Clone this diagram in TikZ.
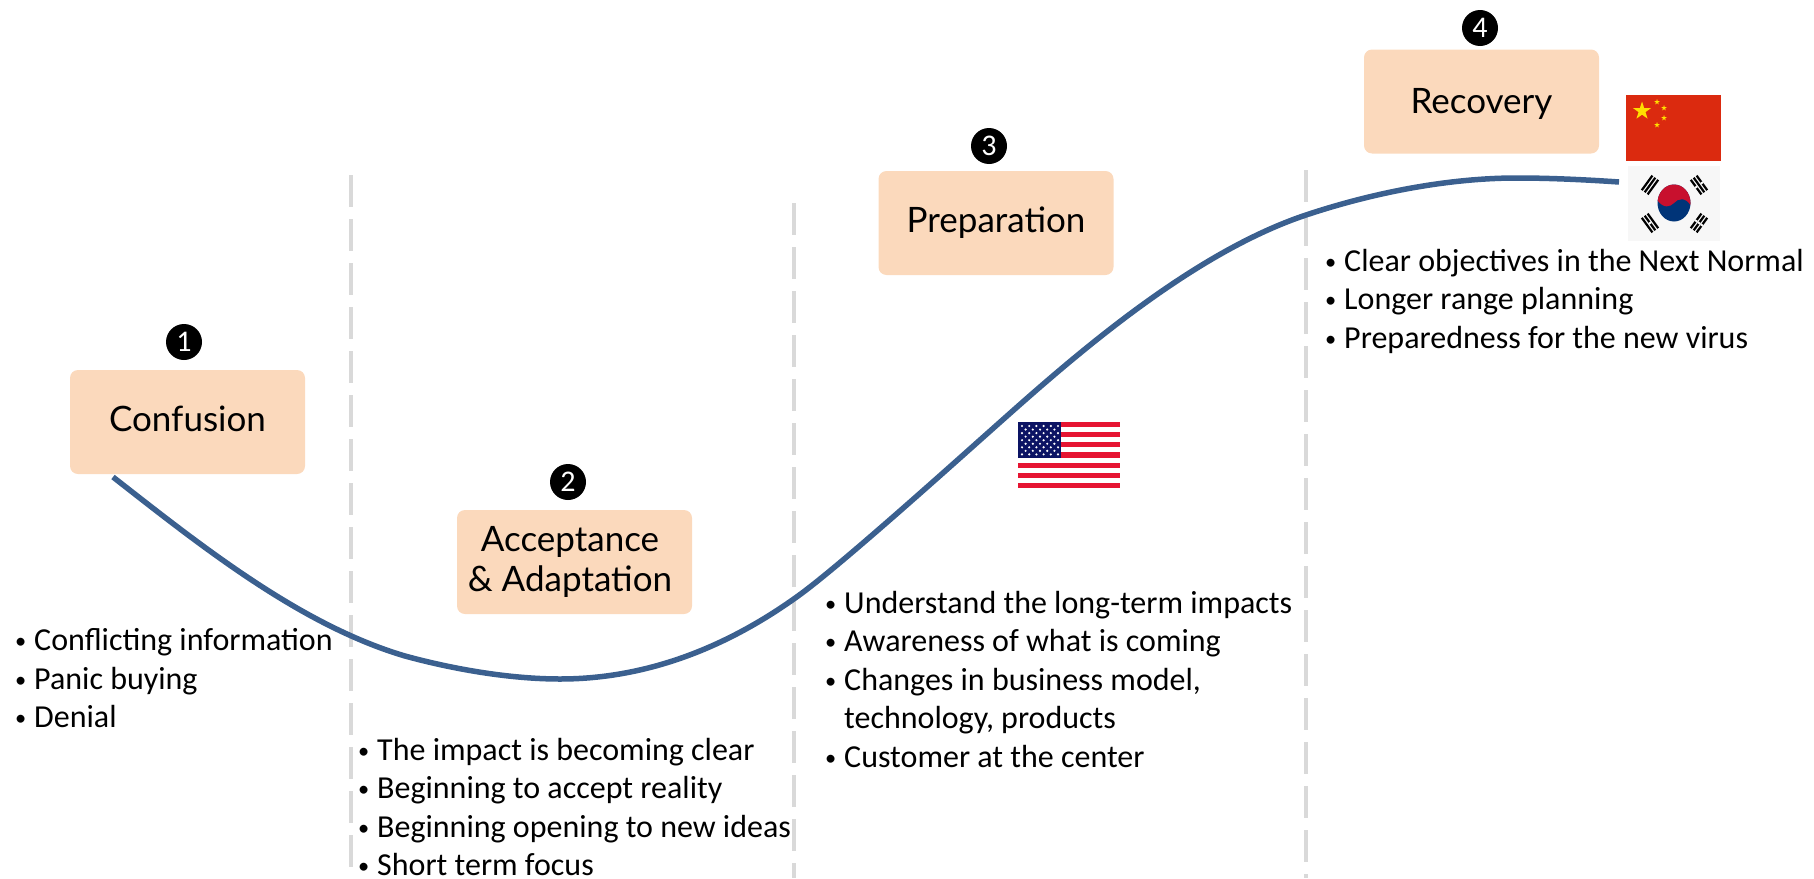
\documentclass[tikz,border=0pt]{standalone}
\usepackage{fontspec}
\setmainfont{Carlito}
\newfontfamily\boxfont{Lato}
\usetikzlibrary{shapes.geometric}
\definecolor{peach}{RGB}{251, 217, 188}
\definecolor{curveblue}{RGB}{59, 96, 143}
\definecolor{gray85}{gray}{0.85}
\definecolor{cnred}{RGB}{219, 42, 15}
\definecolor{cnyellow}{RGB}{255, 222, 0}
\definecolor{krred}{RGB}{200, 16, 46}
\definecolor{krblue}{RGB}{0, 52, 120}
\definecolor{usred}{RGB}{230, 20, 50}
\definecolor{usblue}{RGB}{12, 20, 100}
\tikzset{
  phase/.style={fill=peach, rounded corners=8pt, minimum width=235pt, minimum height=104pt,
                align=center, inner sep=0pt, font=\boxfont\fontsize{35}{40}\selectfont},
  badge/.style={circle, fill=black, text=white, minimum size=36pt, inner sep=0pt,
                font=\fontsize{30}{30}\selectfont},
  notes/.style={anchor=north west, align=left, inner sep=0pt, font=\fontsize{32}{38.5}\selectfont},
  divider/.style={color=gray85, line width=4pt, dash pattern=on 32pt off 12pt}
}
\newcommand{\bul}{\makebox[19pt][l]{\raisebox{2pt}{\scalebox{0.7}{\textbullet}}}}
\newcommand{\bulgap}{\hspace*{19pt}}
\begin{document}
\begin{tikzpicture}[x=1pt, y=-1pt]
  \useasboundingbox (0, 0) rectangle (1814, 878);

  \foreach \x/\ystart in {351/175, 794/203, 1306/170} {
    \draw [divider] (\x, \ystart) -- (\x, 878);
  }

  \node [phase] (confusion) at (187.5, 422) {\raisebox{3.5pt}[\height][\depth]{Confusion}};
  \node [phase] (acceptance) at (574.5, 562) {\hspace*{-9pt}Acceptance\\\hspace*{-9pt}\& Adaptation};
  \node [phase] (preparation) at (996, 223) {Preparation};
  \node [phase] (recovery) at (1481.5, 101.5) {\raisebox{-2.5pt}[\height][\depth]{Recovery}};

  \node [badge] (one) at (184, 342) {1};
  \node [badge] (two) at (568, 482) {2};
  \node [badge] (three) at (989, 146) {3};
  \node [badge] (four) at (1480, 28) {4};

  \coordinate (curvestart) at (113, 477);
  \coordinate (curveend) at (1619, 182);
  \draw [color=curveblue, line width=5.5pt] (curvestart) ..
        controls (200, 545) and (300, 625) .. (405, 656) ..
        controls (460, 671) and (515, 679) .. (560, 679) ..
        controls (650, 679) and (730, 645) .. (798, 596) ..
        controls (830, 573) and (905, 507) .. (980, 440) ..
        controls (1050, 378) and (1180, 257) .. (1306, 215) ..
        controls (1375, 192) and (1450, 178) .. (1517, 178) ..
        controls (1552, 178) and (1590, 180) .. (curveend);

  \node [notes] (notesone) at (15, 628.5) {\bul Conflicting information\\\bul Panic buying\\\bul Denial};
  \node [notes] (notestwo) at (358, 738) {\bul The impact is becoming clear\\\bul Beginning to accept reality\\
        \bul Beginning opening to new ideas\\\bul Short term focus};
  \node [notes] (notesthree) at (825, 591) {\bul Understand the long-term impacts\\\bul Awareness of what is coming\\
        \bul Changes in business model,\\\bulgap technology, products\\\bul Customer at the center};
  \node [notes] (notesfour) at (1325, 249) {\bul Clear objectives in the Next Normal\\\bul Longer range planning\\
        \bul Preparedness for the new virus};

  % China
  \fill [color=cnred] (1626, 95) rectangle (1721, 161);
  \node [star, star points=5, star point ratio=2.6, fill=cnyellow, minimum size=19pt, inner sep=0pt] (bigstar) at (1642, 111) {};
  \foreach \x/\y in {1657/102, 1664/108, 1664/118, 1657/125} {
    \node [star, star points=5, star point ratio=2.6, fill=cnyellow, minimum size=6pt, inner sep=0pt] at (\x, \y) {};
  }

  % Korea
  \fill [color=black!3] (1628, 166) rectangle (1720, 241);
  \begin{scope}
    \clip (1674, 203) ellipse (16.5 and 18.5);
    \fill [color=krblue] (1650, 180) rectangle (1698, 226);
    \fill [color=krred] (1657, 200) .. controls (1664, 209) and (1670, 207) .. (1674, 203) ..
                        controls (1678, 198) and (1686, 197) .. (1691, 206) --
                        (1695, 180) -- (1653, 180) -- cycle;
  \end{scope}
  \foreach \x/\y/\a/\gaps in {1650/185/54/{}, 1699/185/-54/{-3.6, 3.6}, 1650/223/-54/{0}, 1699/223/54/{-3.6, 0, 3.6}} {
    \begin{scope}[shift={(\x, \y)}, rotate=\a]
      \foreach \d in {-3.6, 0, 3.6} {
        \draw [line width=2.2pt] (-9, \d) -- (9, \d);
      }
      \foreach \d in \gaps {
        \draw [color=black!3, line width=2.8pt] (-1, \d) -- (1, \d);
      }
    \end{scope}
  }

  % USA
  \fill [color=white] (1018, 422) rectangle (1120, 488);
  \foreach \i in {0, 2, ..., 12} {
    \fill [color=usred] (1018, 422 + 5.08 * \i) rectangle (1120, 422 + 5.08 * \i + 5.08);
  }
  \fill [color=usblue] (1018, 422) rectangle (1061, 458);
  \foreach \r in {0, 2, ..., 8} {
    \foreach \c in {0, ..., 5} {
      \fill [color=white] (1022 + 7.2 * \c, 426 + 3.55 * \r) circle (1.2);
    }
  }
  \foreach \r in {1, 3, ..., 7} {
    \foreach \c in {0, ..., 4} {
      \fill [color=white] (1025.6 + 7.2 * \c, 426 + 3.55 * \r) circle (1.2);
    }
  }
\end{tikzpicture}
\end{document}
